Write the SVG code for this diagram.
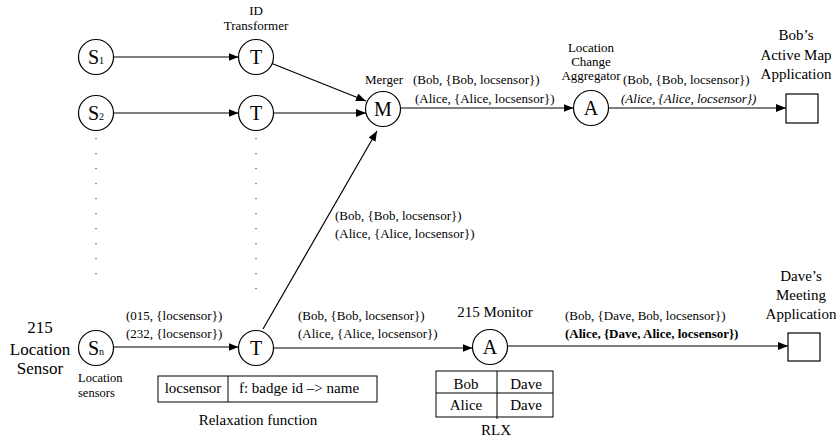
<svg xmlns="http://www.w3.org/2000/svg" width="836" height="443" viewBox="0 0 836 443" font-family="'Liberation Serif', 'Times New Roman', Times, serif">
<style>
text{font-family:'Liberation Serif','Times New Roman',Times,serif;fill:#000}
.node circle{fill:#fff;stroke:#000;stroke-width:1.2}
.box{fill:#fff;stroke:#000;stroke-width:1.2}
.lt{font-size:20px;text-anchor:middle}
.sub{font-size:10px}
.lbl{font-size:13px}
.sm{font-size:12.5px}
.cap{font-size:13px;text-anchor:middle}
.big{font-size:15px;text-anchor:middle}
.side{font-size:17px;text-anchor:middle}
.edges line{stroke:#000;stroke-width:1.2;fill:none}
.dots line{stroke:#555;stroke-width:1.3;stroke-dasharray:1.2 13.8}
.tbl{fill:none;stroke:#000;stroke-width:1}
</style>
<defs>
<marker id="ah" markerUnits="userSpaceOnUse" markerWidth="10" markerHeight="8" refX="10" refY="4" orient="auto">
<path d="M0,0 L10,4 L0,8 z" fill="#000"/>
</marker>
</defs>

<g class="dots">
<line x1="96" y1="138" x2="96" y2="276"/>
<line x1="256" y1="138" x2="256" y2="292"/>
</g>

<g class="edges">
<line x1="113.5" y1="57" x2="238.5" y2="57" marker-end="url(#ah)"/>
<line x1="113.5" y1="113" x2="238.5" y2="113" marker-end="url(#ah)"/>
<line x1="272" y1="63.5" x2="366" y2="101" marker-end="url(#ah)"/>
<line x1="273.5" y1="113" x2="366" y2="113" marker-end="url(#ah)"/>
<line x1="263" y1="329" x2="377" y2="131" marker-end="url(#ah)"/>
<line x1="400.5" y1="108" x2="573.5" y2="108" marker-end="url(#ah)"/>
<line x1="608.5" y1="108" x2="786" y2="108" marker-end="url(#ah)"/>
<line x1="113.5" y1="347" x2="238.5" y2="347" marker-end="url(#ah)"/>
<line x1="273.5" y1="348" x2="472.5" y2="348" marker-end="url(#ah)"/>
<line x1="507.5" y1="346" x2="788" y2="346" marker-end="url(#ah)"/>
</g>

<g id="S1" class="node"><circle cx="96" cy="57" r="17.5"/><text x="96" y="64" class="lt">S<tspan class="sub">1</tspan></text></g>
<g id="S2" class="node"><circle cx="96" cy="113" r="17.5"/><text x="96" y="120" class="lt">S<tspan class="sub">2</tspan></text></g>
<g id="Sn" class="node"><circle cx="96" cy="348" r="17.5"/><text x="96" y="355" class="lt">S<tspan class="sub">n</tspan></text>
<text x="78" y="382" class="sm">Location</text><text x="78" y="396.5" class="sm">sensors</text></g>
<g id="T1" class="node"><circle cx="256" cy="57" r="17.5"/><text x="256" y="64" class="lt">T</text>
<text x="256" y="15" class="cap">ID</text><text x="256" y="30" class="cap">Transformer</text></g>
<g id="T2" class="node"><circle cx="256" cy="113" r="17.5"/><text x="256" y="120" class="lt">T</text></g>
<g id="Tn" class="node"><circle cx="256" cy="348" r="17.5"/><text x="256" y="355" class="lt">T</text></g>
<g id="M" class="node"><circle cx="383" cy="109" r="17.5"/><text x="383" y="116" class="lt">M</text>
<text x="384" y="84" class="cap">Merger</text></g>
<g id="A1" class="node"><circle cx="591" cy="108" r="17.5"/><text x="591" y="115" class="lt">A</text>
<text x="591" y="52" class="cap">Location</text><text x="591" y="66" class="cap">Change</text><text x="591" y="80" class="cap">Aggregator</text></g>
<g id="A2" class="node"><circle cx="490" cy="347" r="17.5"/><text x="490" y="354" class="lt">A</text>
<text x="495" y="317" class="big">215 Monitor</text></g>
<g id="BobApp"><rect class="box" x="786" y="94" width="32" height="29"/>
<text x="796" y="40" class="big">Bob’s</text><text x="796" y="60" class="big">Active Map</text><text x="796" y="79" class="big">Application</text></g>
<g id="DaveApp"><rect class="box" x="788" y="333" width="32" height="28"/>
<text x="801" y="281" class="big">Dave’s</text><text x="801" y="300" class="big">Meeting</text><text x="801" y="319" class="big">Application</text></g>
<g id="LocSensor"><text x="40" y="333" class="side">215</text><text x="40" y="355" class="side">Location</text><text x="40" y="374" class="side">Sensor</text></g>

<g id="RelaxTable">
<rect class="tbl" x="158" y="376" width="219" height="26"/>
<line class="tbl" x1="228" y1="376" x2="228" y2="402"/>
<text x="193" y="393" class="big">locsensor</text>
<text x="299" y="393" class="big">f: badge id –&gt; name</text>
<text x="258" y="425" class="big">Relaxation function</text>
</g>
<g id="RLX">
<rect class="tbl" x="436" y="371" width="117" height="46"/>
<line class="tbl" x1="436" y1="393" x2="553" y2="393"/>
<line class="tbl" x1="497" y1="371" x2="497" y2="419"/>
<text x="466" y="389" class="big">Bob</text><text x="526" y="389" class="big">Dave</text>
<text x="466" y="410" class="big">Alice</text><text x="526" y="410" class="big">Dave</text>
<text x="496" y="435" class="big">RLX</text>
</g>

<g id="labels" class="lbl">
<text x="413" y="84">(Bob, {Bob, locsensor})</text>
<text x="415" y="103">(Alice, {Alice, locsensor})</text>
<text x="623" y="84">(Bob, {Bob, locsensor})</text>
<text x="621" y="103" font-style="italic">(Alice, {Alice, locsensor})</text>
<text x="335" y="220">(Bob, {Bob, locsensor})</text>
<text x="335" y="238">(Alice, {Alice, locsensor})</text>
<text x="126" y="320">(015, {locsensor})</text>
<text x="126" y="338">(232, {locsensor})</text>
<text x="298" y="320">(Bob, {Bob, locsensor})</text>
<text x="298" y="338">(Alice, {Alice, locsensor})</text>
<text x="565" y="320">(Bob, {Dave, Bob, locsensor})</text>
<text x="565" y="338" font-weight="bold">(Alice, {Dave, Alice, locsensor})</text>
</g>
</svg>
